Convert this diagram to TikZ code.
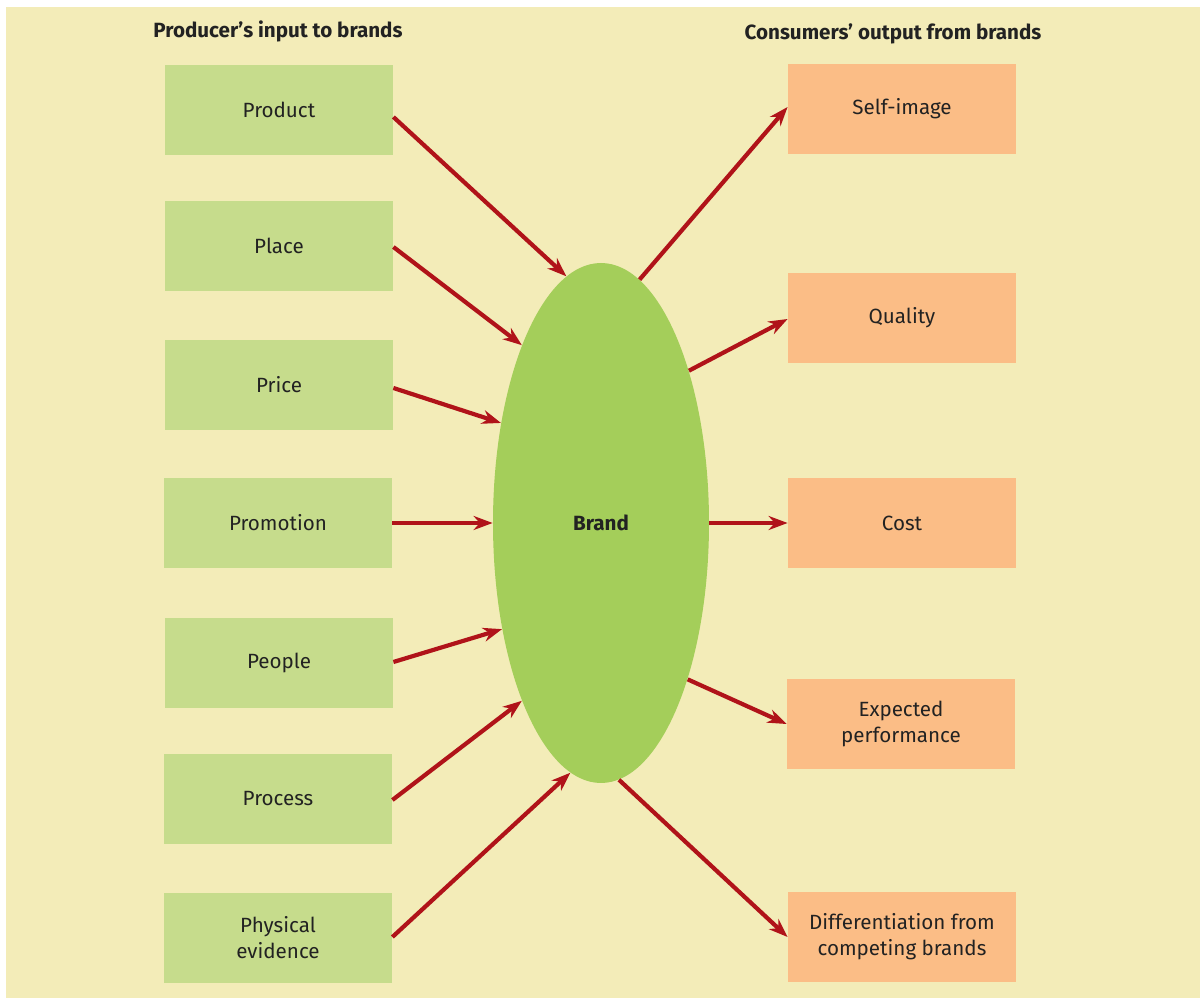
\documentclass[tikz,border=0pt]{standalone}
\usepackage{fontspec}
\setmainfont{Fira Sans}
\usetikzlibrary{arrows.meta,shapes.geometric}
\definecolor{bgcream}{HTML}{F3ECB8}
\definecolor{inbox}{HTML}{C6DC8C}
\definecolor{brandgreen}{HTML}{A4CE5A}
\definecolor{outbox}{HTML}{FBBD86}
\definecolor{arrowred}{HTML}{B01319}
\definecolor{ink}{HTML}{222222}
\begin{document}
\begin{tikzpicture}[x=0.5pt,y=-0.5pt,
  every node/.style={text=ink,font=\fontsize{10.3}{13}\selectfont},
  inputbox/.style={fill=inbox,minimum width=114pt,minimum height=45pt,inner sep=0pt,align=center},
  outputbox/.style={fill=outbox,minimum width=114pt,minimum height=45pt,inner sep=0pt,align=center},
  heading/.style={font=\fontsize{10.3}{13}\selectfont\bfseries},
  link/.style={draw=arrowred,line width=2.1pt,-{Stealth[length=9.5pt,width=7pt]}}]
  % canvas
  \useasboundingbox (0,0) rectangle (1200,999);
  \fill[white] (0,0) rectangle (1200,999);
  \fill[bgcream] (6,7) rectangle (1200,998);
  % headings
  \node[heading] (hin) at (278,31) {Producer’s input to brands};
  \node[heading] (hout) at (893,34) {Consumers’ output from brands};
  % centre
  \node[ellipse,fill=brandgreen,minimum width=108pt,minimum height=260pt,inner sep=0pt,font=\fontsize{10.3}{13}\selectfont\bfseries] (brand) at (601,523) {Brand};
  % inputs
  \node[inputbox] (product) at (279,110) {Product};
  \node[inputbox] (place) at (279,246) {Place};
  \node[inputbox] (price) at (279,385) {Price};
  \node[inputbox] (promotion) at (278,523) {Promotion};
  \node[inputbox] (people) at (279,663) {People};
  \node[inputbox] (process) at (278,799) {Process};
  \node[inputbox] (physical) at (278,938) {Physical\\evidence};
  % outputs
  \node[outputbox] (selfimage) at (902,109) {Self-image};
  \node[outputbox] (quality) at (902,318) {Quality};
  \node[outputbox] (cost) at (902,523) {Cost};
  \node[outputbox] (expected) at (901,724) {Expected\\performance};
  \node[outputbox] (differ) at (902,937) {Differentiation from\\competing brands};
  % inputs into the brand
  \draw[link] ([yshift=-3.5pt]product.east) -- (brand.98);
  \draw[link] ([yshift=-0.5pt]place.east) -- (brand.114);
  \draw[link] ([yshift=-1.5pt]price.east) -- (brand.135);
  \draw[link] (promotion.east) -- (brand.180);
  \draw[link] ([yshift=0.5pt]people.east) -- (brand.227);
  \draw[link] ([yshift=-0.5pt]process.east) -- (brand.246);
  \draw[link] ([yshift=0.5pt]physical.east) -- (brand.263);
  % brand outputs
  \draw[link] (brand.81) -- ([yshift=1pt]selfimage.west);
  \draw[link] (brand.60) -- ([yshift=-0.5pt]quality.west);
  \draw[link] (brand.0) -- (cost.west);
  \draw[link] (brand.-61) -- (expected.west);
  \draw[link] (brand.-86) -- (differ.west);
\end{tikzpicture}
\end{document}
